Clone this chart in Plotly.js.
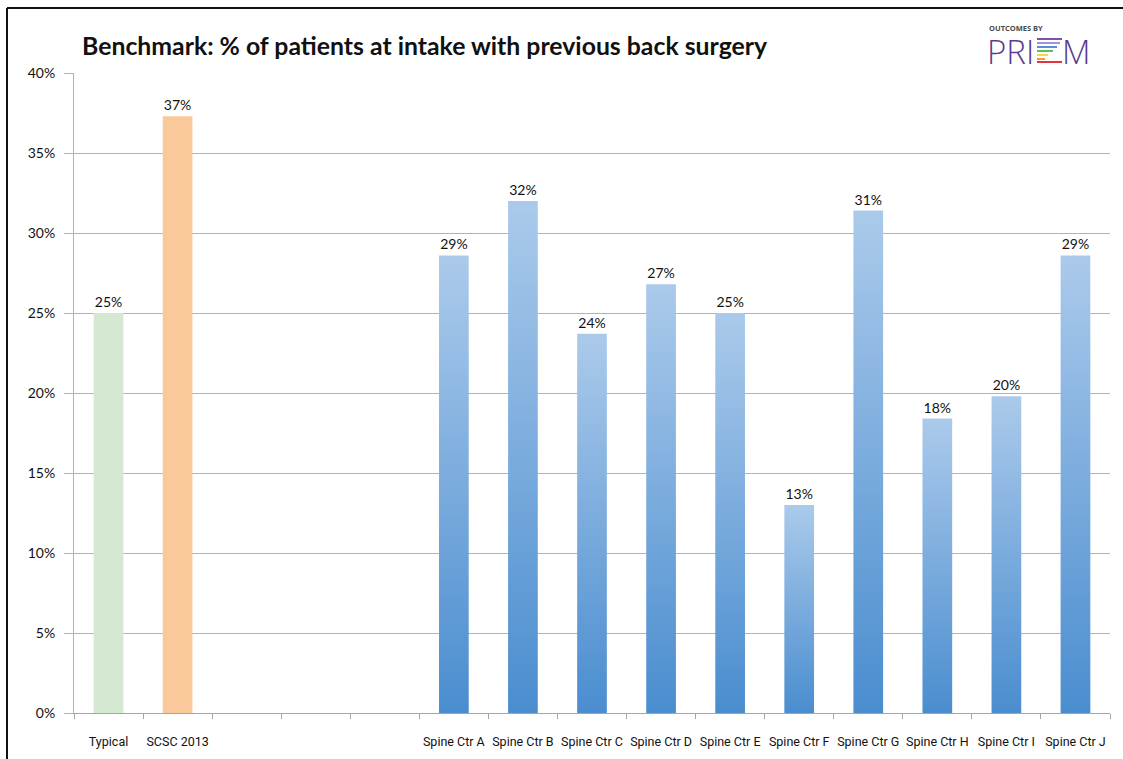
<!DOCTYPE html>
<html>
<head>
<meta charset="utf-8">
<script src="https://cdn.plot.ly/plotly-3.0.1.min.js"></script>
<style>
  html, body { margin: 0; padding: 0; background: #ffffff; }
  #chart { width: 1123px; height: 759px; }
</style>
</head>
<body>
<div id="chart"></div>
<script>
// ---- data ----
const categories = ['Typical', 'SCSC 2013', ' ', '  ', '   ',
  'Spine Ctr A', 'Spine Ctr B', 'Spine Ctr C', 'Spine Ctr D', 'Spine Ctr E',
  'Spine Ctr F', 'Spine Ctr G', 'Spine Ctr H', 'Spine Ctr I', 'Spine Ctr J'];
const values = [25.0, 37.3, null, null, null,
  28.6, 32.0, 23.7, 26.8, 25.0, 13.0, 31.4, 18.4, 19.8, 28.6];
const yTicks = [0, 5, 10, 15, 20, 25, 30, 35, 40];
const chartTitle = 'Benchmark: % of patients at intake with previous back surgery';

// ---- layout geometry ----
const W = 1123, H = 759;
const M = { l: 74, r: 13, t: 73, b: 46 };
const pw = W - M.l - M.r, ph = H - M.t - M.b;
const px = v => (v - M.l) / pw;
const py = v => (H - M.b - v) / ph;

const labelFont = { family: 'Lato, "Open Sans", sans-serif', size: 14, color: '#111111' };

function barTrace(idx, color, name) {
  return {
    type: 'bar',
    name: name,
    x: idx.map(i => categories[i]),
    y: idx.map(i => values[i] === null ? null : values[i] / 100),
    width: 0.43,
    marker: { color: color, line: { width: 0 } },
    texttemplate: '%{y:.0%}',
    textposition: 'outside',
    cliponaxis: false,
    textfont: labelFont,
    hoverinfo: 'x+y'
  };
}

const traces = [
  barTrace([0], '#d5e8d1', 'Typical'),
  barTrace([1], '#fac99b', 'SCSC 2013'),
  barTrace([2, 3, 4, 5, 6, 7, 8, 9, 10, 11, 12, 13, 14], '#6fa3dc', 'Spine centers')
];

const purple = '#5c3b8e';
const rainbow = [
  { c: '#7a54a8', y: 39, x1: 1062 },
  { c: '#a98fd0', y: 43, x1: 1060 },
  { c: '#5a8fd8', y: 47, x1: 1057 },
  { c: '#5cbf5a', y: 51, x1: 1053 },
  { c: '#f1dc3a', y: 55, x1: 1048 },
  { c: '#f39a33', y: 59, x1: 1045 },
  { c: '#e2343f', y: 62, x1: 1062 }
];

const shapes = [
  // outer frame (top and left edges visible)
  { type: 'line', xref: 'paper', yref: 'paper', x0: px(7), x1: px(W + 5), y0: py(8), y1: py(8),
    line: { color: '#111111', width: 2 } },
  { type: 'line', xref: 'paper', yref: 'paper', x0: px(7), x1: px(7), y0: py(8), y1: py(H + 5),
    line: { color: '#111111', width: 2 } }
].concat(rainbow.map(r => ({
  type: 'line', xref: 'paper', yref: 'paper',
  x0: px(1037), x1: px(r.x1), y0: py(r.y), y1: py(r.y),
  line: { color: r.c, width: 2 }
})));

const layout = {
  width: W, height: H,
  margin: M,
  paper_bgcolor: '#ffffff',
  plot_bgcolor: '#ffffff',
  showlegend: false,
  barmode: 'overlay',
  title: {
    text: '<b>' + chartTitle + '</b>',
    font: { family: 'Lato, "Open Sans", sans-serif', size: 24.8, color: '#111111' },
    xref: 'paper', x: px(82), xanchor: 'left',
    yref: 'container', y: 1 - 46 / H, yanchor: 'middle'
  },
  xaxis: {
    type: 'category',
    categoryorder: 'array',
    categoryarray: categories,
    tickson: 'boundaries',
    tickangle: 0,
    ticks: 'outside', ticklen: 5, tickcolor: '#a6a6a6', tickwidth: 1,
    showline: true, linecolor: '#a6a6a6', linewidth: 1,
    showgrid: false,
    tickfont: { family: 'Roboto, "Liberation Sans", sans-serif', size: 12.5, color: '#111111' },
    ticklabelstandoff: 17,
    fixedrange: true
  },
  yaxis: {
    range: [0, 0.4],
    tickvals: yTicks.map(v => v / 100),
    ticktext: yTicks.map(v => v + '%'),
    ticks: 'outside', ticklen: 9, tickcolor: '#b3b3b3', tickwidth: 1,
    showline: true, linecolor: '#b3b3b3', linewidth: 1,
    showgrid: true, gridcolor: '#b3b3b3', gridwidth: 1,
    zeroline: false,
    tickfont: { family: 'Lato, "Open Sans", sans-serif', size: 14, color: '#111111' },
    ticklabelstandoff: 6,
    fixedrange: true
  },
  shapes: shapes,
  annotations: [
    { xref: 'paper', yref: 'paper', x: px(987), y: py(27), xanchor: 'left', yanchor: 'middle',
      text: '<b>OUTCOMES BY</b>', showarrow: false, height: 9,
      font: { family: '"Open Sans", sans-serif', size: 7.5, color: '#4a4a4a' } },
    { xref: 'paper', yref: 'paper', x: px(985), y: py(51), xanchor: 'left', yanchor: 'middle',
      text: 'PRI', showarrow: false, height: 30,
      font: { family: '"Open Sans", sans-serif', size: 33, color: purple, weight: 300 } },
    { xref: 'paper', yref: 'paper', x: px(1060), y: py(51), xanchor: 'left', yanchor: 'middle',
      text: 'M', showarrow: false, height: 30,
      font: { family: '"Open Sans", sans-serif', size: 33, color: purple, weight: 300 } }
  ]
};

function applyGradient(gd) {
  const svg = gd.querySelector('svg.main-svg');
  if (!svg) return;
  const ns = 'http://www.w3.org/2000/svg';
  let defs = svg.querySelector('defs');
  if (!defs) { defs = document.createElementNS(ns, 'defs'); svg.insertBefore(defs, svg.firstChild); }
  if (!svg.querySelector('#blueGrad')) {
    const g = document.createElementNS(ns, 'linearGradient');
    g.setAttribute('id', 'blueGrad');
    g.setAttribute('x1', '0'); g.setAttribute('y1', '0');
    g.setAttribute('x2', '0'); g.setAttribute('y2', '1');
    [['0%', '#abcaeb'], ['100%', '#4a8dcf']].forEach(([o, c]) => {
      const s = document.createElementNS(ns, 'stop');
      s.setAttribute('offset', o); s.setAttribute('stop-color', c);
      g.appendChild(s);
    });
    defs.appendChild(g);
  }
  const barTraces = gd.querySelectorAll('g.trace.bars');
  const blue = barTraces[2];
  if (blue) {
    blue.querySelectorAll('g.point path').forEach(p => { p.style.fill = 'url(#blueGrad)'; });
  }
}

const gd = document.getElementById('chart');
Plotly.newPlot(gd, traces, layout, { displayModeBar: false, staticPlot: true }).then(() => {
  applyGradient(gd);
  gd.on && gd.on('plotly_afterplot', () => applyGradient(gd));
});
</script>
</body>
</html>
